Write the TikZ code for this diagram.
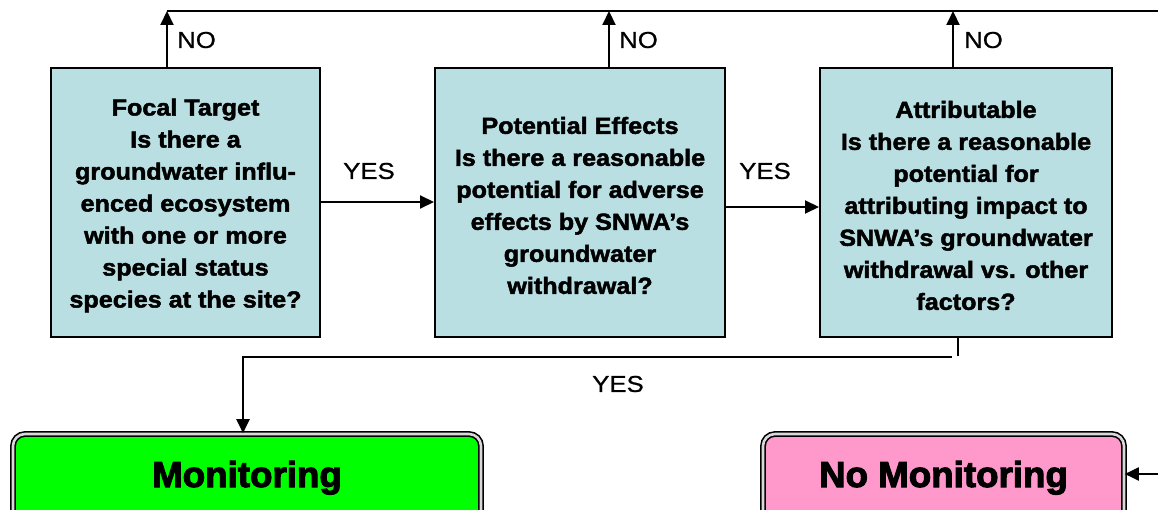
\documentclass[tikz,border=0pt]{standalone}
\usepackage{fontspec}
\setmainfont{Liberation Sans}
\newfontfamily\qfont[FakeBold=2,FakeStretch=1.08]{Liberation Sans Bold}
\newfontfamily\efont[FakeBold=3,FakeStretch=1.02]{Liberation Sans Bold}
\newfontfamily\lfont[FakeBold=0.8,FakeStretch=1.12]{Liberation Sans}
\usetikzlibrary{arrows.meta,positioning}
\definecolor{boxblue}{HTML}{B9DFE3}
\definecolor{mongreen}{HTML}{00FF00}
\definecolor{nopink}{HTML}{FF99CC}
\tikzset{
  qbox/.style={draw=black, line width=2pt, fill=boxblue, minimum height=269pt, inner sep=0pt},
  qtext/.style={align=center, font=\qfont\fontsize{23.3}{32}\selectfont, inner sep=0pt},
  endbox/.style={draw=black, line width=1.6pt, double=white!70!gray, double distance=2.6pt,
    rounded corners=12pt, minimum height=100pt, font=\efont\fontsize{36}{40}\selectfont},
  conn/.style={line width=2pt, draw=black},
  arr/.style={conn, -{Triangle[length=14pt,width=13pt]}},
  lbl/.style={font=\lfont\fontsize{23}{26}\selectfont, inner sep=0pt}
}
\begin{document}
\begin{tikzpicture}[x=1pt,y=-1pt]
\clip (0,0) rectangle (1158,510);
\fill[white] (0,0) rectangle (1158,510);
% question boxes
\node[qbox, minimum width=269pt] (focal) at (185.5,202.5) {};
\node[qbox, minimum width=290pt] (pot) at (580,202.5) {};
\node[qbox, minimum width=292pt] (attr) at (966,202.5) {};
\node[qtext] (focaltext) at ([yshift=-3pt]focal.center) {Focal Target\\Is there a\\groundwater influ-\\enced ecosystem\\with one or more\\special status\\species at the site?};
\node[qtext] (pottext) at ([yshift=-3pt]pot.center) {Potential Effects\\Is there a reasonable\\potential for adverse\\effects by SNWA’s\\groundwater\\withdrawal?};
\node[qtext] (attrtext) at ([yshift=-3pt]attr.center) {Attributable\\Is there a reasonable\\potential for\\attributing impact to\\SNWA’s groundwater\\withdrawal vs. other\\factors?};
% end boxes
\node[endbox, fill=mongreen, minimum width=468pt] (mon) at (247,484) {\raisebox{-3pt}[0pt][0pt]{Monitoring}};
\node[endbox, fill=nopink, minimum width=361pt] (nomon) at (943.5,484) {\raisebox{-3pt}[0pt][0pt]{No Monitoring}};
% coordinates
\coordinate (topL) at (167,11);
\coordinate (topR) at (1160,11);
\coordinate (rightin) at (1160,474);
\coordinate (yesturn) at (243,357);
% NO connectors
\draw[conn] (topL) -- (topR);
\draw[arr] (focal.north -| topL) -- (topL);
\draw[arr] (pot.north -| 609,0) -- (609,11);
\draw[arr] (attr.north -| 953,0) -- (953,11);
\node[lbl, anchor=west] (no1) at (177,40) {NO};
\node[lbl, anchor=west] (no2) at (619,40) {NO};
\node[lbl, anchor=west] (no3) at (964,40) {NO};
% YES connectors
\draw[arr] (focal.east |- 0,202) -- (pot.west |- 0,202);
\draw[arr] (pot.east |- 0,207) -- (attr.west |- 0,207);
\node[lbl] (yes1) at (369,171) {YES};
\node[lbl] (yes2) at (765,171) {YES};
\draw[conn] (attr.south -| 958,0) -- (958,356);
\draw[arr] (952,357) -- (yesturn) -- (mon.north -| yesturn);
\node[lbl] (yes3) at (618,384) {YES};
% into No Monitoring
\draw[arr] (rightin) -- (nomon.east |- rightin);
\end{tikzpicture}
\end{document}
